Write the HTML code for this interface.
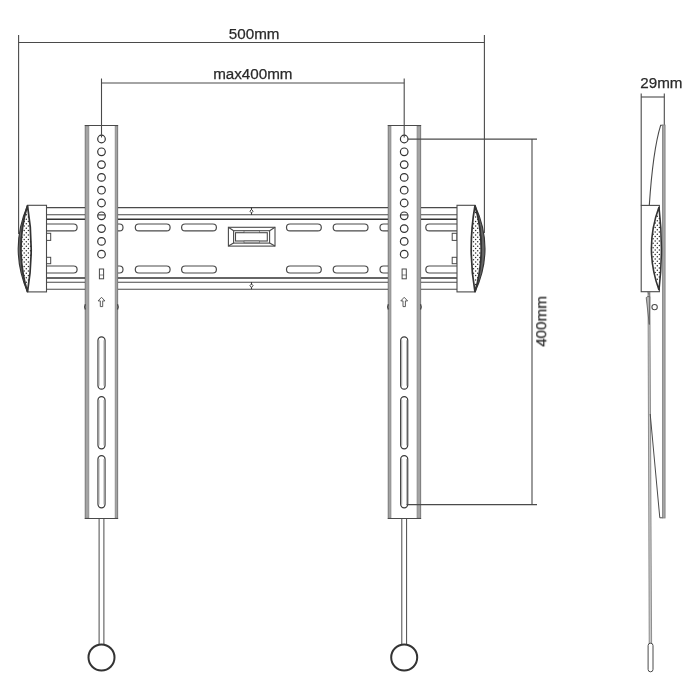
<!DOCTYPE html><html><head><meta charset="utf-8"><style>html,body{margin:0;padding:0;background:#fff;width:700px;height:700px;overflow:hidden}svg{display:block}text{font-family:"Liberation Sans",sans-serif;fill:#2a2a2a;stroke:#2a2a2a;stroke-width:0.25px}.t{opacity:0.999;will-change:transform}</style></head><body>
<svg width="700" height="700" viewBox="0 0 700 700">
<defs><pattern id="dots" x="0" y="0.5" width="4.2" height="4.5" patternUnits="userSpaceOnUse"><rect width="4.2" height="4.5" fill="#fff"/><circle cx="1" cy="1" r="0.7" fill="#2a2a2a"/><circle cx="3.1" cy="3.25" r="0.7" fill="#2a2a2a"/></pattern></defs>
<g stroke="#4a4a4a" fill="none">
<line x1="46.5" y1="207.6" x2="457" y2="207.6" stroke-width="1.1"/>
<line x1="46.5" y1="214.8" x2="457" y2="214.8" stroke-width="1.1"/>
<line x1="46.5" y1="219.2" x2="457" y2="219.2" stroke-width="1.5" stroke="#333"/>
<line x1="46.5" y1="277.9" x2="457" y2="277.9" stroke-width="1.5" stroke="#333"/>
<line x1="46.5" y1="282.2" x2="457" y2="282.2" stroke-width="1.1"/>
<line x1="46.5" y1="289.2" x2="457" y2="289.2" stroke-width="1.1"/>
</g>
<rect x="42.300000000000004" y="224.0" width="34.8" height="6.899999999999994" rx="3.5" fill="#fff" stroke="#4a4a4a" stroke-width="1.2"/>
<rect x="42.300000000000004" y="266.0" width="34.8" height="7.000000000000045" rx="3.5" fill="#fff" stroke="#4a4a4a" stroke-width="1.2"/>
<rect x="88.19999999999999" y="224.0" width="34.8" height="6.899999999999994" rx="3.5" fill="#fff" stroke="#4a4a4a" stroke-width="1.2"/>
<rect x="88.19999999999999" y="266.0" width="34.8" height="7.000000000000045" rx="3.5" fill="#fff" stroke="#4a4a4a" stroke-width="1.2"/>
<rect x="135.29999999999998" y="224.0" width="34.8" height="6.899999999999994" rx="3.5" fill="#fff" stroke="#4a4a4a" stroke-width="1.2"/>
<rect x="135.29999999999998" y="266.0" width="34.8" height="7.000000000000045" rx="3.5" fill="#fff" stroke="#4a4a4a" stroke-width="1.2"/>
<rect x="181.6" y="224.0" width="34.8" height="6.899999999999994" rx="3.5" fill="#fff" stroke="#4a4a4a" stroke-width="1.2"/>
<rect x="181.6" y="266.0" width="34.8" height="7.000000000000045" rx="3.5" fill="#fff" stroke="#4a4a4a" stroke-width="1.2"/>
<rect x="286.5" y="224.0" width="34.8" height="6.899999999999994" rx="3.5" fill="#fff" stroke="#4a4a4a" stroke-width="1.2"/>
<rect x="286.5" y="266.0" width="34.8" height="7.000000000000045" rx="3.5" fill="#fff" stroke="#4a4a4a" stroke-width="1.2"/>
<rect x="333.20000000000005" y="224.0" width="34.8" height="6.899999999999994" rx="3.5" fill="#fff" stroke="#4a4a4a" stroke-width="1.2"/>
<rect x="333.20000000000005" y="266.0" width="34.8" height="7.000000000000045" rx="3.5" fill="#fff" stroke="#4a4a4a" stroke-width="1.2"/>
<rect x="380.0" y="224.0" width="34.8" height="6.899999999999994" rx="3.5" fill="#fff" stroke="#4a4a4a" stroke-width="1.2"/>
<rect x="380.0" y="266.0" width="34.8" height="7.000000000000045" rx="3.5" fill="#fff" stroke="#4a4a4a" stroke-width="1.2"/>
<rect x="425.8" y="224.0" width="34.8" height="6.899999999999994" rx="3.5" fill="#fff" stroke="#4a4a4a" stroke-width="1.2"/>
<rect x="425.8" y="266.0" width="34.8" height="7.000000000000045" rx="3.5" fill="#fff" stroke="#4a4a4a" stroke-width="1.2"/>
<rect x="46.4" y="233.3" width="4.300000000000004" height="7.099999999999994" fill="#fff" stroke="#4a4a4a" stroke-width="1"/>
<rect x="46.4" y="257.3" width="4.300000000000004" height="6.399999999999977" fill="#fff" stroke="#4a4a4a" stroke-width="1"/>
<rect x="452.2" y="233.3" width="4.800000000000011" height="7.099999999999994" fill="#fff" stroke="#4a4a4a" stroke-width="1"/>
<rect x="452.2" y="257.3" width="4.800000000000011" height="6.399999999999977" fill="#fff" stroke="#4a4a4a" stroke-width="1"/>
<line x1="251.5" y1="207.6" x2="251.5" y2="214.8" stroke="#333" stroke-width="1.1"/>
<path d="M251.5 209.5 L253.1 211.2 L251.5 212.89999999999998 L249.9 211.2 Z" fill="#fff" stroke="#333" stroke-width="0.9"/>
<line x1="251.5" y1="282.2" x2="251.5" y2="289.2" stroke="#333" stroke-width="1.1"/>
<path d="M251.5 284.0 L253.1 285.7 L251.5 287.4 L249.9 285.7 Z" fill="#fff" stroke="#333" stroke-width="0.9"/>
<g fill="none" stroke="#4a4a4a" stroke-width="1.1">
<rect x="228.4" y="227.3" width="46.6" height="18.8" fill="#fff"/>
<rect x="233.6" y="230.7" width="36" height="12.4"/>
<rect x="235.5" y="232.7" width="31.8" height="8.3"/>
<line x1="228.4" y1="227.3" x2="233.6" y2="230.7"/><line x1="275" y1="227.3" x2="269.6" y2="230.7"/>
<line x1="228.4" y1="246.1" x2="233.6" y2="243.1"/><line x1="275" y1="246.1" x2="269.6" y2="243.1"/>
<rect x="244" y="230.9" width="15.3" height="1.8" fill="#e4e4e4" stroke-width="0.6"/>
<rect x="244" y="241" width="15.3" height="1.8" fill="#e4e4e4" stroke-width="0.6"/>
</g>
<rect x="85.3" y="125.5" width="32.3" height="393.0" fill="#fff" stroke="#4a4a4a" stroke-width="1"/>
<rect x="85.3" y="126.0" width="3.6" height="392.0" fill="#a4a4a4" stroke="#808080" stroke-width="0.6"/>
<rect x="115.1" y="126.0" width="2.5" height="392.0" fill="#a4a4a4" stroke="#808080" stroke-width="0.6"/>
<line x1="84.8" y1="125.5" x2="118.1" y2="125.5" stroke="#4a4a4a" stroke-width="1"/>
<line x1="84.8" y1="518.5" x2="118.1" y2="518.5" stroke="#4a4a4a" stroke-width="1"/>
<circle cx="101.5" cy="139.0" r="3.8" fill="#fff" stroke="#333" stroke-width="1.2"/>
<circle cx="101.5" cy="151.8" r="3.8" fill="#fff" stroke="#333" stroke-width="1.2"/>
<circle cx="101.5" cy="164.6" r="3.8" fill="#fff" stroke="#333" stroke-width="1.2"/>
<circle cx="101.5" cy="177.4" r="3.8" fill="#fff" stroke="#333" stroke-width="1.2"/>
<circle cx="101.5" cy="190.2" r="3.8" fill="#fff" stroke="#333" stroke-width="1.2"/>
<circle cx="101.5" cy="203.0" r="3.8" fill="#fff" stroke="#333" stroke-width="1.2"/>
<circle cx="101.5" cy="215.8" r="3.8" fill="#fff" stroke="#333" stroke-width="1.2"/>
<circle cx="101.5" cy="228.6" r="3.8" fill="#fff" stroke="#333" stroke-width="1.2"/>
<circle cx="101.5" cy="241.4" r="3.8" fill="#fff" stroke="#333" stroke-width="1.2"/>
<circle cx="101.5" cy="254.2" r="3.8" fill="#fff" stroke="#333" stroke-width="1.2"/>
<line x1="98.1" y1="214.9" x2="104.9" y2="214.9" stroke="#333" stroke-width="1.1"/>
<rect x="99.4" y="269" width="4.2" height="9.8" fill="#fff" stroke="#4a4a4a" stroke-width="1"/>
<line x1="99.4" y1="275" x2="103.6" y2="275" stroke="#4a4a4a" stroke-width="0.7"/>
<path d="M101.5 297.3 L104.9 300.9 L102.7 300.9 L102.7 306.6 L100.3 306.6 L100.3 300.9 L98.1 300.9 Z" fill="#fff" stroke="#4a4a4a" stroke-width="0.9" stroke-linejoin="round"/>
<path d="M85.3 304.2 q-1.3 2.7 0 5.4" fill="none" stroke="#333" stroke-width="1.1"/>
<path d="M117.6 304.2 q1.3 2.7 0 5.4" fill="none" stroke="#333" stroke-width="1.1"/>
<rect x="98.0" y="336.8" width="6.999999999999999" height="52.40000000000002" rx="3.5" fill="#fff" stroke="#3a3a3a" stroke-width="1.25"/>
<line x1="99.0" y1="340.2" x2="99.0" y2="385.8" stroke="#b0b0b0" stroke-width="1.1"/>
<line x1="104.0" y1="340.2" x2="104.0" y2="385.8" stroke="#b0b0b0" stroke-width="1.1"/>
<rect x="98.0" y="396.6" width="6.999999999999999" height="52.199999999999974" rx="3.5" fill="#fff" stroke="#3a3a3a" stroke-width="1.25"/>
<line x1="99.0" y1="400.0" x2="99.0" y2="445.4" stroke="#b0b0b0" stroke-width="1.1"/>
<line x1="104.0" y1="400.0" x2="104.0" y2="445.4" stroke="#b0b0b0" stroke-width="1.1"/>
<rect x="98.0" y="455.6" width="6.999999999999999" height="52.199999999999974" rx="3.5" fill="#fff" stroke="#3a3a3a" stroke-width="1.25"/>
<line x1="99.0" y1="459.0" x2="99.0" y2="504.4" stroke="#b0b0b0" stroke-width="1.1"/>
<line x1="104.0" y1="459.0" x2="104.0" y2="504.4" stroke="#b0b0b0" stroke-width="1.1"/>
<line x1="99.1" y1="518.5" x2="99.1" y2="645" stroke="#4a4a4a" stroke-width="1"/>
<line x1="103.9" y1="518.5" x2="103.9" y2="645" stroke="#4a4a4a" stroke-width="1"/>
<circle cx="101.5" cy="657.5" r="13" fill="#fff" stroke="#333" stroke-width="2"/>
<rect x="388.3" y="125.5" width="32.30000000000001" height="393.0" fill="#fff" stroke="#4a4a4a" stroke-width="1"/>
<rect x="388.3" y="126.0" width="2.7" height="392.0" fill="#a4a4a4" stroke="#808080" stroke-width="0.6"/>
<rect x="417.0" y="126.0" width="3.6" height="392.0" fill="#a4a4a4" stroke="#808080" stroke-width="0.6"/>
<line x1="387.8" y1="125.5" x2="421.1" y2="125.5" stroke="#4a4a4a" stroke-width="1"/>
<line x1="387.8" y1="518.5" x2="421.1" y2="518.5" stroke="#4a4a4a" stroke-width="1"/>
<circle cx="404.2" cy="139.0" r="3.8" fill="#fff" stroke="#333" stroke-width="1.2"/>
<circle cx="404.2" cy="151.8" r="3.8" fill="#fff" stroke="#333" stroke-width="1.2"/>
<circle cx="404.2" cy="164.6" r="3.8" fill="#fff" stroke="#333" stroke-width="1.2"/>
<circle cx="404.2" cy="177.4" r="3.8" fill="#fff" stroke="#333" stroke-width="1.2"/>
<circle cx="404.2" cy="190.2" r="3.8" fill="#fff" stroke="#333" stroke-width="1.2"/>
<circle cx="404.2" cy="203.0" r="3.8" fill="#fff" stroke="#333" stroke-width="1.2"/>
<circle cx="404.2" cy="215.8" r="3.8" fill="#fff" stroke="#333" stroke-width="1.2"/>
<circle cx="404.2" cy="228.6" r="3.8" fill="#fff" stroke="#333" stroke-width="1.2"/>
<circle cx="404.2" cy="241.4" r="3.8" fill="#fff" stroke="#333" stroke-width="1.2"/>
<circle cx="404.2" cy="254.2" r="3.8" fill="#fff" stroke="#333" stroke-width="1.2"/>
<line x1="400.8" y1="214.9" x2="407.59999999999997" y2="214.9" stroke="#333" stroke-width="1.1"/>
<rect x="402.09999999999997" y="269" width="4.2" height="9.8" fill="#fff" stroke="#4a4a4a" stroke-width="1"/>
<line x1="402.09999999999997" y1="275" x2="406.3" y2="275" stroke="#4a4a4a" stroke-width="0.7"/>
<path d="M404.2 297.3 L407.59999999999997 300.9 L405.4 300.9 L405.4 306.6 L403.0 306.6 L403.0 300.9 L400.8 300.9 Z" fill="#fff" stroke="#4a4a4a" stroke-width="0.9" stroke-linejoin="round"/>
<path d="M388.3 304.2 q-1.3 2.7 0 5.4" fill="none" stroke="#333" stroke-width="1.1"/>
<path d="M420.6 304.2 q1.3 2.7 0 5.4" fill="none" stroke="#333" stroke-width="1.1"/>
<rect x="400.7" y="336.8" width="6.999999999999999" height="52.40000000000002" rx="3.5" fill="#fff" stroke="#3a3a3a" stroke-width="1.25"/>
<line x1="401.7" y1="340.2" x2="401.7" y2="385.8" stroke="#b0b0b0" stroke-width="1.1"/>
<line x1="406.7" y1="340.2" x2="406.7" y2="385.8" stroke="#b0b0b0" stroke-width="1.1"/>
<rect x="400.7" y="396.6" width="6.999999999999999" height="52.199999999999974" rx="3.5" fill="#fff" stroke="#3a3a3a" stroke-width="1.25"/>
<line x1="401.7" y1="400.0" x2="401.7" y2="445.4" stroke="#b0b0b0" stroke-width="1.1"/>
<line x1="406.7" y1="400.0" x2="406.7" y2="445.4" stroke="#b0b0b0" stroke-width="1.1"/>
<rect x="400.7" y="455.6" width="6.999999999999999" height="52.199999999999974" rx="3.5" fill="#fff" stroke="#3a3a3a" stroke-width="1.25"/>
<line x1="401.7" y1="459.0" x2="401.7" y2="504.4" stroke="#b0b0b0" stroke-width="1.1"/>
<line x1="406.7" y1="459.0" x2="406.7" y2="504.4" stroke="#b0b0b0" stroke-width="1.1"/>
<line x1="401.8" y1="518.5" x2="401.8" y2="645" stroke="#4a4a4a" stroke-width="1"/>
<line x1="406.59999999999997" y1="518.5" x2="406.59999999999997" y2="645" stroke="#4a4a4a" stroke-width="1"/>
<circle cx="404.2" cy="657.5" r="13" fill="#fff" stroke="#333" stroke-width="2"/>
<rect x="27.5" y="205.3" width="19" height="86.6" fill="#fff" stroke="#4a4a4a" stroke-width="1.1"/>
<path d="M27.5 205.5 Q8.899999999999999 248.75 27.5 292 Q14.5 248.75 27.5 205.5 Z" fill="#666" stroke="#333" stroke-width="1.1"/>
<path d="M27.5 205.5 Q14.5 248.75 27.5 292 Q34.9 248.75 27.5 205.5 Z" fill="#fff" stroke="#333" stroke-width="1.7"/>
<g fill="#2e2e2e"><circle cx="26.30" cy="214.75" r="0.75"/><circle cx="28.40" cy="217.00" r="0.75"/><circle cx="26.30" cy="219.25" r="0.75"/><circle cx="24.20" cy="221.50" r="0.75"/><circle cx="28.40" cy="221.50" r="0.75"/><circle cx="26.30" cy="223.75" r="0.75"/><circle cx="24.20" cy="226.00" r="0.75"/><circle cx="28.40" cy="226.00" r="0.75"/><circle cx="26.30" cy="228.25" r="0.75"/><circle cx="24.20" cy="230.50" r="0.75"/><circle cx="28.40" cy="230.50" r="0.75"/><circle cx="26.30" cy="232.75" r="0.75"/><circle cx="24.20" cy="235.00" r="0.75"/><circle cx="28.40" cy="235.00" r="0.75"/><circle cx="22.10" cy="237.25" r="0.75"/><circle cx="26.30" cy="237.25" r="0.75"/><circle cx="24.20" cy="239.50" r="0.75"/><circle cx="28.40" cy="239.50" r="0.75"/><circle cx="22.10" cy="241.75" r="0.75"/><circle cx="26.30" cy="241.75" r="0.75"/><circle cx="30.50" cy="241.75" r="0.75"/><circle cx="24.20" cy="244.00" r="0.75"/><circle cx="28.40" cy="244.00" r="0.75"/><circle cx="22.10" cy="246.25" r="0.75"/><circle cx="26.30" cy="246.25" r="0.75"/><circle cx="30.50" cy="246.25" r="0.75"/><circle cx="24.20" cy="248.50" r="0.75"/><circle cx="28.40" cy="248.50" r="0.75"/><circle cx="22.10" cy="250.75" r="0.75"/><circle cx="26.30" cy="250.75" r="0.75"/><circle cx="30.50" cy="250.75" r="0.75"/><circle cx="24.20" cy="253.00" r="0.75"/><circle cx="28.40" cy="253.00" r="0.75"/><circle cx="22.10" cy="255.25" r="0.75"/><circle cx="26.30" cy="255.25" r="0.75"/><circle cx="30.50" cy="255.25" r="0.75"/><circle cx="24.20" cy="257.50" r="0.75"/><circle cx="28.40" cy="257.50" r="0.75"/><circle cx="22.10" cy="259.75" r="0.75"/><circle cx="26.30" cy="259.75" r="0.75"/><circle cx="24.20" cy="262.00" r="0.75"/><circle cx="28.40" cy="262.00" r="0.75"/><circle cx="26.30" cy="264.25" r="0.75"/><circle cx="24.20" cy="266.50" r="0.75"/><circle cx="28.40" cy="266.50" r="0.75"/><circle cx="26.30" cy="268.75" r="0.75"/><circle cx="24.20" cy="271.00" r="0.75"/><circle cx="28.40" cy="271.00" r="0.75"/><circle cx="26.30" cy="273.25" r="0.75"/><circle cx="24.20" cy="275.50" r="0.75"/><circle cx="28.40" cy="275.50" r="0.75"/><circle cx="26.30" cy="277.75" r="0.75"/><circle cx="28.40" cy="280.00" r="0.75"/><circle cx="26.30" cy="282.25" r="0.75"/></g>
<rect x="457" y="205.3" width="18" height="86.6" fill="#fff" stroke="#4a4a4a" stroke-width="1.1"/>
<path d="M475 205.5 Q495.0 248.75 475 292 Q487.4 248.75 475 205.5 Z" fill="#666" stroke="#333" stroke-width="1.1"/>
<path d="M475 205.5 Q487.4 248.75 475 292 Q467.4 248.75 475 205.5 Z" fill="#fff" stroke="#333" stroke-width="1.7"/>
<g fill="#2e2e2e"><circle cx="475.60" cy="212.50" r="0.75"/><circle cx="475.60" cy="217.00" r="0.75"/><circle cx="477.70" cy="219.25" r="0.75"/><circle cx="475.60" cy="221.50" r="0.75"/><circle cx="473.50" cy="223.75" r="0.75"/><circle cx="477.70" cy="223.75" r="0.75"/><circle cx="475.60" cy="226.00" r="0.75"/><circle cx="473.50" cy="228.25" r="0.75"/><circle cx="477.70" cy="228.25" r="0.75"/><circle cx="475.60" cy="230.50" r="0.75"/><circle cx="473.50" cy="232.75" r="0.75"/><circle cx="477.70" cy="232.75" r="0.75"/><circle cx="475.60" cy="235.00" r="0.75"/><circle cx="479.80" cy="235.00" r="0.75"/><circle cx="473.50" cy="237.25" r="0.75"/><circle cx="477.70" cy="237.25" r="0.75"/><circle cx="475.60" cy="239.50" r="0.75"/><circle cx="479.80" cy="239.50" r="0.75"/><circle cx="473.50" cy="241.75" r="0.75"/><circle cx="477.70" cy="241.75" r="0.75"/><circle cx="475.60" cy="244.00" r="0.75"/><circle cx="479.80" cy="244.00" r="0.75"/><circle cx="473.50" cy="246.25" r="0.75"/><circle cx="477.70" cy="246.25" r="0.75"/><circle cx="475.60" cy="248.50" r="0.75"/><circle cx="479.80" cy="248.50" r="0.75"/><circle cx="473.50" cy="250.75" r="0.75"/><circle cx="477.70" cy="250.75" r="0.75"/><circle cx="475.60" cy="253.00" r="0.75"/><circle cx="479.80" cy="253.00" r="0.75"/><circle cx="473.50" cy="255.25" r="0.75"/><circle cx="477.70" cy="255.25" r="0.75"/><circle cx="475.60" cy="257.50" r="0.75"/><circle cx="479.80" cy="257.50" r="0.75"/><circle cx="473.50" cy="259.75" r="0.75"/><circle cx="477.70" cy="259.75" r="0.75"/><circle cx="475.60" cy="262.00" r="0.75"/><circle cx="479.80" cy="262.00" r="0.75"/><circle cx="473.50" cy="264.25" r="0.75"/><circle cx="477.70" cy="264.25" r="0.75"/><circle cx="475.60" cy="266.50" r="0.75"/><circle cx="473.50" cy="268.75" r="0.75"/><circle cx="477.70" cy="268.75" r="0.75"/><circle cx="475.60" cy="271.00" r="0.75"/><circle cx="473.50" cy="273.25" r="0.75"/><circle cx="477.70" cy="273.25" r="0.75"/><circle cx="475.60" cy="275.50" r="0.75"/><circle cx="477.70" cy="277.75" r="0.75"/><circle cx="475.60" cy="280.00" r="0.75"/><circle cx="475.60" cy="284.50" r="0.75"/></g>
<g stroke="#4a4a4a" stroke-width="1.1" fill="none">
<line x1="18.6" y1="35" x2="18.6" y2="234"/>
<line x1="484.4" y1="35" x2="484.4" y2="233"/>
<line x1="18.6" y1="42.45" x2="484.4" y2="42.45"/>
<line x1="101.5" y1="78.5" x2="101.5" y2="137.5"/>
<line x1="404.2" y1="78.5" x2="404.2" y2="137.5"/>
<line x1="101.5" y1="83" x2="404.2" y2="83"/>
<line x1="407.8" y1="139.1" x2="537" y2="139.1"/>
<line x1="532" y1="139.1" x2="532" y2="504.6"/>
<line x1="406.5" y1="504.6" x2="537" y2="504.6"/>
</g>
<text class="t" x="254.2" y="38.9" font-size="15.2" text-anchor="middle">500mm</text>
<text class="t" x="252.8" y="79" font-size="15.2" text-anchor="middle">max400mm</text>
<text class="t" transform="translate(546.2 321.5) rotate(-90)" font-size="15.2" text-anchor="middle">400mm</text>
<g stroke="#4a4a4a" stroke-width="1.1" fill="none">
<line x1="641.2" y1="93.6" x2="641.2" y2="205.4"/>
<line x1="664.3" y1="93.6" x2="664.3" y2="125"/>
<line x1="641.2" y1="97" x2="664.3" y2="97"/>
<path d="M662.5 125.2 L660.7 125.2 Q653 150 649.3 205.4"/>
</g>
<text class="t" x="640.3" y="87.6" font-size="15.2">29mm</text>
<rect x="662.4" y="125" width="2.7" height="393" fill="#a4a4a4" stroke="#808080" stroke-width="0.8"/>
<rect x="641.2" y="205.4" width="18.2" height="86.3" fill="#fff" stroke="#4a4a4a" stroke-width="1.1"/>
<path d="M659 207 Q643.8 248.5 659 290 Q663.8 248.5 659 207 Z" fill="#fff" stroke="#333" stroke-width="1.6"/>
<g fill="#2e2e2e"><circle cx="657.30" cy="216.25" r="0.75"/><circle cx="659.40" cy="218.50" r="0.75"/><circle cx="657.30" cy="220.75" r="0.75"/><circle cx="655.20" cy="223.00" r="0.75"/><circle cx="659.40" cy="223.00" r="0.75"/><circle cx="657.30" cy="225.25" r="0.75"/><circle cx="655.20" cy="227.50" r="0.75"/><circle cx="659.40" cy="227.50" r="0.75"/><circle cx="657.30" cy="229.75" r="0.75"/><circle cx="655.20" cy="232.00" r="0.75"/><circle cx="659.40" cy="232.00" r="0.75"/><circle cx="653.10" cy="234.25" r="0.75"/><circle cx="657.30" cy="234.25" r="0.75"/><circle cx="655.20" cy="236.50" r="0.75"/><circle cx="659.40" cy="236.50" r="0.75"/><circle cx="653.10" cy="238.75" r="0.75"/><circle cx="657.30" cy="238.75" r="0.75"/><circle cx="655.20" cy="241.00" r="0.75"/><circle cx="659.40" cy="241.00" r="0.75"/><circle cx="653.10" cy="243.25" r="0.75"/><circle cx="657.30" cy="243.25" r="0.75"/><circle cx="655.20" cy="245.50" r="0.75"/><circle cx="659.40" cy="245.50" r="0.75"/><circle cx="653.10" cy="247.75" r="0.75"/><circle cx="657.30" cy="247.75" r="0.75"/><circle cx="655.20" cy="250.00" r="0.75"/><circle cx="659.40" cy="250.00" r="0.75"/><circle cx="653.10" cy="252.25" r="0.75"/><circle cx="657.30" cy="252.25" r="0.75"/><circle cx="655.20" cy="254.50" r="0.75"/><circle cx="659.40" cy="254.50" r="0.75"/><circle cx="653.10" cy="256.75" r="0.75"/><circle cx="657.30" cy="256.75" r="0.75"/><circle cx="655.20" cy="259.00" r="0.75"/><circle cx="659.40" cy="259.00" r="0.75"/><circle cx="653.10" cy="261.25" r="0.75"/><circle cx="657.30" cy="261.25" r="0.75"/><circle cx="655.20" cy="263.50" r="0.75"/><circle cx="659.40" cy="263.50" r="0.75"/><circle cx="657.30" cy="265.75" r="0.75"/><circle cx="655.20" cy="268.00" r="0.75"/><circle cx="659.40" cy="268.00" r="0.75"/><circle cx="657.30" cy="270.25" r="0.75"/><circle cx="655.20" cy="272.50" r="0.75"/><circle cx="659.40" cy="272.50" r="0.75"/><circle cx="657.30" cy="274.75" r="0.75"/><circle cx="659.40" cy="277.00" r="0.75"/><circle cx="657.30" cy="279.25" r="0.75"/></g>
<path d="M648.0 292 L649.9 292 L651.6 643.5 L649.2 643.5 Z" fill="#c8c8c8" stroke="#6a6a6a" stroke-width="0.7"/>
<path d="M647.3 292.3 L649.8 292.3 L649.8 297 Z" fill="#777"/>
<path d="M646.2 297.6 L647.6 296.6 L649.8 296.6 L649.3 324.5 Z" fill="#b5b5b5" stroke="#555" stroke-width="0.8" stroke-linejoin="round"/>
<circle cx="654.6" cy="307.1" r="2.7" fill="#fff" stroke="#4a4a4a" stroke-width="1.05"/>
<path d="M650.2 414 L659.8 517.8 L662.4 517.8" fill="none" stroke="#4a4a4a" stroke-width="1"/>
<rect x="648.1" y="643.2" width="4.9" height="28.6" rx="2.4" fill="#fff" stroke="#4a4a4a" stroke-width="1"/>
</svg></body></html>
